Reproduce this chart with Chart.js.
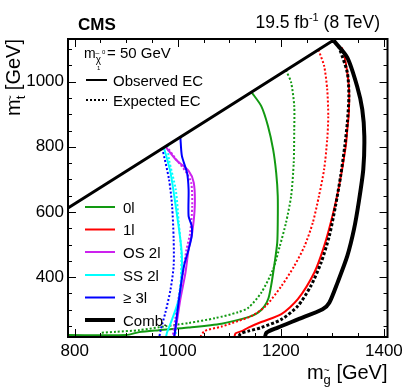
<!DOCTYPE html>
<html><head><meta charset="utf-8">
<script src="https://cdn.jsdelivr.net/npm/chart.js@4/dist/chart.umd.min.js"></script>
<style>html,body{margin:0;padding:0;background:#fff;}canvas{display:block;}</style>
</head><body>
<canvas id="c" width="407" height="391"></canvas>
<script>
// ---- data (GeV) ----
const xTickValues = [800, 1000, 1200, 1400];
const yTickValues = [400, 600, 800, 1000];

const diagX = [787, 1302];
const diagY = [612, 1127];

const combObsX = [1302, 1329, 1348, 1358, 1362, 1360, 1351, 1342, 1329, 1310, 1294, 1281, 1233, 1194, 1172, 1168];
const combObsY = [1127, 1074, 986, 915, 833, 731, 628, 547, 465, 383, 321, 301, 270, 245, 229, 205];
const combExpX = [1312, 1329, 1332, 1329, 1324, 1316, 1306, 1294, 1278, 1258, 1233, 1201, 1162, 1137, 1122, 1114];
const combExpY = [1110, 1028, 956, 874, 802, 710, 618, 526, 444, 372, 311, 270, 245, 234, 226, 205];

const l1ObsX = [1318, 1323, 1332, 1332, 1329, 1326, 1313, 1300, 1284, 1265, 1233, 1201, 1162, 1137, 1124, 1112, 1109];
const l1ObsY = [1105, 1084, 986, 905, 854, 802, 679, 587, 495, 414, 332, 286, 262, 245, 234, 227, 205];
const l1ExpX = [1273, 1284, 1290, 1292, 1290, 1284, 1274, 1262, 1246, 1226, 1201, 1170, 1143, 1117, 1085, 1052, 1040];
const l1ExpY = [1098, 1048, 976, 894, 823, 731, 649, 567, 495, 434, 372, 310, 280, 265, 248, 234, 205];

const l0ObsX = [1143, 1162, 1175, 1185, 1191, 1194, 1194, 1193, 1188, 1181, 1176, 1168, 1155, 1137, 1085, 1021, 963, 925, 900, 787];
const l0ObsY = [968, 925, 864, 792, 720, 649, 567, 506, 444, 372, 335, 310, 290, 277, 257, 245, 237, 231, 222, 222];
const l0ExpX = [1210, 1220, 1226, 1226, 1225, 1220, 1210, 1198, 1185, 1162, 1137, 1117, 1073, 1021, 976, 925, 880, 850];
const l0ExpY = [1035, 997, 925, 853, 751, 649, 567, 495, 424, 352, 306, 292, 274, 259, 249, 237, 232, 229];

const os2ObsX = [976, 996, 1021, 1031, 1033, 1028, 1021, 1015, 1005, 999, 992];
const os2ObsY = [801, 761, 726, 690, 618, 536, 485, 414, 332, 270, 205];
const os2ExpX = [978, 995, 1015, 1026, 1028, 1024, 1017, 1010, 1001, 995, 989];
const os2ExpY = [803, 765, 725, 690, 618, 536, 485, 414, 332, 270, 205];

const ss2ObsX = [973, 986, 996, 1005, 1008, 1007, 1002, 989, 979, 976];
const ss2ObsY = [798, 720, 618, 516, 465, 393, 332, 270, 229, 205];
const ss2ExpX = [980, 983, 996, 1002, 1007, 1006, 1002, 998, 995];
const ss2ExpY = [805, 761, 669, 567, 465, 393, 332, 270, 205];

const l3ObsX = [1005, 1008, 1018, 1021, 1021, 1027, 1027, 1021, 1012, 1005, 999, 996, 992];
const l3ObsY = [830, 772, 720, 669, 587, 557, 526, 485, 434, 362, 291, 250, 205];
const l3ExpX = [970, 983, 989, 992, 992, 986, 976, 967, 963];
const l3ExpY = [795, 700, 618, 516, 434, 362, 291, 239, 205];

const legendLabels = ['0l', '1l', 'OS 2l', 'SS 2l', '\u2265 3l', 'Comb.'];

// ---- style ----
const FONT = "'Liberation Sans', Arial, Helvetica, sans-serif";
const GREEN = '#129912', RED = '#ff0000', MAG = '#cc22ee', CYAN = '#00ffff', BLUE = '#0000ff', BLACK = '#000000';
const DOT = [2, 2];

function pts(xs, ys) { return xs.map((x, i) => ({ x: x, y: ys[i] })); }
function ds(xs, ys, color, width, dash) {
  return { data: pts(xs, ys), showLine: true, pointRadius: 0, borderColor: color, backgroundColor: color,
    borderWidth: width, borderDash: dash || [], fill: false, tension: 0.25, clip: 0 };
}

const datasets = [
  ds(diagX, diagY, BLACK, 3),
  ds(combObsX, combObsY, BLACK, 4),
  ds(combExpX, combExpY, BLACK, 3, [3, 2]),
  ds(l3ObsX, l3ObsY, BLUE, 2),
  ds(ss2ObsX, ss2ObsY, CYAN, 2),
  ds(os2ObsX, os2ObsY, MAG, 2),
  ds(l3ExpX, l3ExpY, BLUE, 2, DOT),
  ds(ss2ExpX, ss2ExpY, CYAN, 2, DOT),
  ds(os2ExpX, os2ExpY, MAG, 2, DOT),
  ds(l1ObsX, l1ObsY, RED, 2),
  ds(l1ExpX, l1ExpY, RED, 2, DOT),
  ds(l0ObsX, l0ObsY, GREEN, 2),
  ds(l0ExpX, l0ExpY, GREEN, 2, DOT)
];
const legendColors = [GREEN, RED, MAG, CYAN, BLUE, BLACK];

function drawSubText(ctx, parts, x, y, align) {
  let total = 0;
  parts.forEach(p => { ctx.font = (p.bold ? 'bold ' : '') + p.size + 'px ' + FONT; p.w = ctx.measureText(p.t).width; if (!p.over) total += p.w + (p.dx || 0); });
  let cx = align === 'right' ? x - total : x;
  parts.forEach(p => {
    ctx.font = (p.bold ? 'bold ' : '') + p.size + 'px ' + FONT;
    if (p.over) { ctx.fillText(p.t, cx - p.back, y + p.dy); return; }
    cx += (p.dx || 0);
    ctx.fillText(p.t, cx, y + p.dy);
    cx += p.w;
  });
}

const framePlugin = {
  id: 'frame',
  afterDatasetsDraw(chart) {
    const ctx = chart.ctx, a = chart.chartArea, xs = chart.scales.x, ys = chart.scales.y;
    ctx.save();
    ctx.strokeStyle = '#000';
    ctx.lineWidth = 1;
    ctx.beginPath();
    for (let v = 800; v <= 1400; v += 50) {
      const p = Math.round(xs.getPixelForValue(v)) + 0.5;
      const L = (v % 200 === 0) ? 8 : 4;
      ctx.moveTo(p, a.bottom); ctx.lineTo(p, a.bottom - L);
      ctx.moveTo(p, a.top); ctx.lineTo(p, a.top + L);
    }
    for (let v = 250; v <= 1100; v += 50) {
      const p = Math.round(ys.getPixelForValue(v)) + 0.5;
      const L = (v % 200 === 0) ? 8 : 4;
      ctx.moveTo(a.left, p); ctx.lineTo(a.left + L, p);
      ctx.moveTo(a.right, p); ctx.lineTo(a.right - L, p);
    }
    ctx.stroke();
    ctx.lineWidth = 2;
    ctx.strokeRect(a.left, a.top, a.right - a.left, a.bottom - a.top);

    ctx.fillStyle = '#000';
    ctx.textBaseline = 'alphabetic';
    ctx.textAlign = 'left';
    ctx.font = 'bold 17px ' + FONT;
    ctx.fillText('CMS', 78, 30);
    drawSubText(ctx, [
      { t: '19.5 fb', size: 17.5, dy: 0 },
      { t: '-1', size: 11, dy: -7 },
      { t: ' (8 TeV)', size: 17.5, dy: 0 }
    ], 380, 28, 'right');

    drawSubText(ctx, [
      { t: 'm', size: 14, dy: 0 },
      { t: '\u03C7', size: 10, dy: 5, dx: 0 },
      { t: '~', size: 8, dy: -2, over: true, back: 6 },
      { t: '0', size: 6, dy: -4, over: true, back: -1 },
      { t: '1', size: 6, dy: 12, over: true, back: 4 },
      { t: ' = 50 GeV', size: 15, dy: 0, dx: 2 }
    ], 84, 58, 'left');

    ctx.lineWidth = 2;
    ctx.strokeStyle = '#000';
    ctx.setLineDash([]);
    ctx.beginPath(); ctx.moveTo(86, 80); ctx.lineTo(107, 80); ctx.stroke();
    ctx.setLineDash([2, 2]);
    ctx.beginPath(); ctx.moveTo(86, 100); ctx.lineTo(107, 100); ctx.stroke();
    ctx.setLineDash([]);
    ctx.font = '15px ' + FONT;
    ctx.fillText('Observed EC', 113, 86);
    ctx.fillText('Expected EC', 113, 106);

    const ly = [207, 229.5, 252, 275, 297.5, 320];
    legendLabels.forEach((lab, i) => {
      ctx.strokeStyle = legendColors[i];
      ctx.lineWidth = (i === 5) ? 4 : 2;
      ctx.beginPath(); ctx.moveTo(85, ly[i]); ctx.lineTo(115, ly[i]); ctx.stroke();
      ctx.fillStyle = '#000';
      ctx.font = '15px ' + FONT;
      ctx.fillText(lab, 123, ly[i] + 5.5);
    });

    ctx.fillStyle = '#000';
    drawSubText(ctx, [
      { t: 'm', size: 20, dy: 0 },
      { t: 'g', size: 13, dy: 5 },
      { t: '~', size: 10, dy: -5, over: true, back: 7 },
      { t: ' [GeV]', size: 20, dy: 0 }
    ], a.right, 379, 'right');

    ctx.save();
    ctx.translate(20, a.top);
    ctx.rotate(-Math.PI / 2);
    drawSubText(ctx, [
      { t: 'm', size: 20, dy: 0 },
      { t: 't', size: 13, dy: 5 },
      { t: '~', size: 10, dy: -6, over: true, back: 5.5 },
      { t: ' [GeV]', size: 20, dy: 0 }
    ], 0, 0, 'right');
    ctx.restore();
    ctx.restore();
  }
};

new Chart(document.getElementById('c'), {
  type: 'scatter',
  data: { datasets: datasets },
  options: {
    responsive: false,
    animation: false,
    devicePixelRatio: 1,
    layout: { padding: { left: 0, right: 16, top: 39, bottom: 0 } },
    plugins: { legend: { display: false }, tooltip: { enabled: false } },
    scales: {
      x: {
        type: 'linear', min: 787, max: 1407,
        afterBuildTicks: s => { s.ticks = xTickValues.map(v => ({ value: v })); },
        afterFit: s => { s.height = 54; },
        grid: { display: false, drawTicks: false },
        border: { display: false },
        ticks: { font: { family: FONT, size: 17 }, color: '#000', padding: 4, maxRotation: 0, autoSkip: false,
          callback: v => String(v) }
      },
      y: {
        type: 'linear', min: 216, max: 1131,
        afterBuildTicks: s => { s.ticks = yTickValues.map(v => ({ value: v })); },
        afterFit: s => { s.width = 68; },
        grid: { display: false, drawTicks: false },
        border: { display: false },
        ticks: { font: { family: FONT, size: 17 }, color: '#000', padding: 4, autoSkip: false,
          callback: v => String(v) }
      }
    }
  },
  plugins: [framePlugin]
});
</script>
</body></html>
